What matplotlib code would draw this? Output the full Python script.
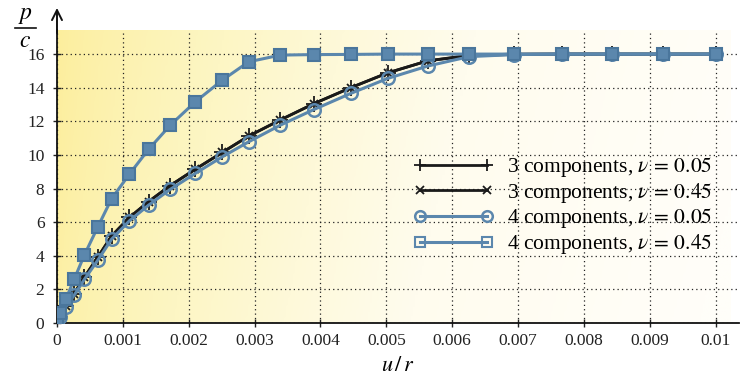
import numpy as np
import matplotlib
matplotlib.use("Agg")
import matplotlib.pyplot as plt
from matplotlib.colors import LinearSegmentedColormap

plt.rcParams['font.family'] = ['Liberation Serif', 'DejaVu Serif']
plt.rcParams['mathtext.fontset'] = 'stix'

# u/r values (x 0.001) shared by all curves
u_r = np.array([0, 0.045, 0.135, 0.26, 0.415, 0.62, 0.83, 1.10, 1.39, 1.72, 2.10, 2.51,
                2.91, 3.39, 3.90, 4.46, 5.02, 5.63, 6.26, 6.94, 7.67, 8.42, 9.20, 10.0]) * 1e-3

p_c_3_005 = [0, 0.38, 1.0, 1.75, 2.72, 3.92, 5.18, 6.28, 7.22, 8.18, 9.15, 10.15,
             11.12, 12.08, 13.05, 14.0, 14.88, 15.6, 15.93, 16.0, 16.0, 16.0, 16.0, 16.0]
p_c_3_045 = [0, 0.38, 1.0, 1.75, 2.72, 3.92, 5.18, 6.28, 7.22, 8.18, 9.15, 10.15,
             11.12, 12.08, 13.05, 14.0, 14.88, 15.6, 15.9, 15.98, 16.0, 16.0, 16.0, 16.0]
p_c_4_005 = [0, 0.36, 0.96, 1.65, 2.59, 3.74, 4.99, 6.08, 7.01, 7.95, 8.90, 9.89,
             10.78, 11.77, 12.70, 13.66, 14.55, 15.29, 15.85, 15.97, 16.0, 16.0, 16.0, 16.0]
p_c_4_045 = [0, 0.57, 1.42, 2.59, 4.04, 5.72, 7.40, 8.86, 10.33, 11.77, 13.16, 14.45,
             15.54, 15.94, 15.97, 15.98, 16.0, 16.0, 16.0, 16.0, 16.0, 16.0, 16.0, 16.0]

labels = [r'3 components, $\nu\,=\,0.05$', r'3 components, $\nu\,=\,0.45$',
          r'4 components, $\nu\,=\,0.05$', r'4 components, $\nu\,=\,0.45$']
x_ticks = [0, 0.001, 0.002, 0.003, 0.004, 0.005, 0.006, 0.007, 0.008, 0.009, 0.01]
x_ticklabels = ['0', '0.001', '0.002', '0.003', '0.004', '0.005', '0.006', '0.007', '0.008', '0.009', '0.01']
y_ticks = [0, 2, 4, 6, 8, 10, 12, 14, 16]

blue = '#5b87ad'

fig = plt.figure(figsize=(7.45, 3.78), dpi=100)
ax = fig.add_axes([0.0765, 0.1455, 0.915, 0.775])

ax.set_xlim(0, 0.01035)
ax.set_ylim(0, 17.43)

# yellow -> white background gradient
cmap = LinearSegmentedColormap.from_list('bg', ['#fcee9c', '#fdf6c4', '#fffcee', '#fffef9'])
gx, gy = np.meshgrid(np.linspace(0, 1, 300), np.linspace(0, 1, 100))
grad = np.clip(gx ** 0.75 * 0.95 + gy * 0.08, 0, 1)
ax.imshow(grad, cmap=cmap, extent=[0, 0.01023, 0, 17.43], origin='upper',
          aspect='auto', zorder=0, interpolation='bilinear')

ax.grid(True, color='#222222', linestyle=(0, (1, 2.5)), linewidth=0.9, zorder=1)

ax.plot(u_r, p_c_3_045, color='#1a1a1a', lw=2, marker='x', ms=6, mew=1.3, label=labels[1], zorder=2.5)
ax.plot(u_r, p_c_3_005, color='#1a1a1a', lw=2, marker='+', ms=11, mew=1.3, label=labels[0], zorder=3)
ax.plot(u_r, p_c_4_005, color=blue, lw=2.2, marker='o', ms=9, mfc='none', mec=blue, mew=1.8,
        label=labels[2], zorder=4)
ax.plot(u_r, p_c_4_045, color=blue, lw=2.2, marker='s', ms=8, mfc=blue, mec='#4a769c', mew=1.5,
        label=labels[3], zorder=5)

ax.set_xticks(x_ticks)
ax.set_xticklabels(x_ticklabels)
ax.set_yticks(y_ticks)
ax.tick_params(direction='inout', length=6, width=1, labelsize=12.5, colors='#222222')
ax.tick_params(axis='y', pad=6)
ax.tick_params(axis='x', pad=4)

for s in ['top', 'right']:
    ax.spines[s].set_visible(False)
for s in ['left', 'bottom']:
    ax.spines[s].set_linewidth(1.3)
    ax.spines[s].set_color('#111111')

# arrow on y axis
ax.annotate('', xy=(0, 1.085), xycoords='axes fraction', xytext=(0, 0.98),
            arrowprops=dict(arrowstyle='->', lw=1.4, color='#111111', mutation_scale=18))

handles, hlabels = ax.get_legend_handles_labels()
order = [hlabels.index(l) for l in labels]
leg = ax.legend([handles[i] for i in order], labels, loc='upper left',
                bbox_to_anchor=(0.517, 0.588), frameon=False, numpoints=2,
                handlelength=3.7, fontsize=15.5, labelspacing=0.08, handletextpad=0.65,
                markerscale=0.85, borderaxespad=0, borderpad=0.2)
leg.set_zorder(6)
leg.legend_handles[3].set_markerfacecolor('none')
leg.legend_handles[3].set_markeredgecolor(blue)

ax.set_xlabel(r'$u\,/\,r$', fontsize=16, labelpad=6)

# p/c label as a stacked fraction
fig.text(0.034, 0.96, r'$p$', fontsize=17, ha='center', va='center')
fig.text(0.034, 0.89, r'$c$', fontsize=17, ha='center', va='center')
fig.add_artist(plt.Line2D([0.02, 0.048], [0.925, 0.925], color='#111111', lw=1.2, transform=fig.transFigure))

fig.savefig('out.png', dpi=100)
